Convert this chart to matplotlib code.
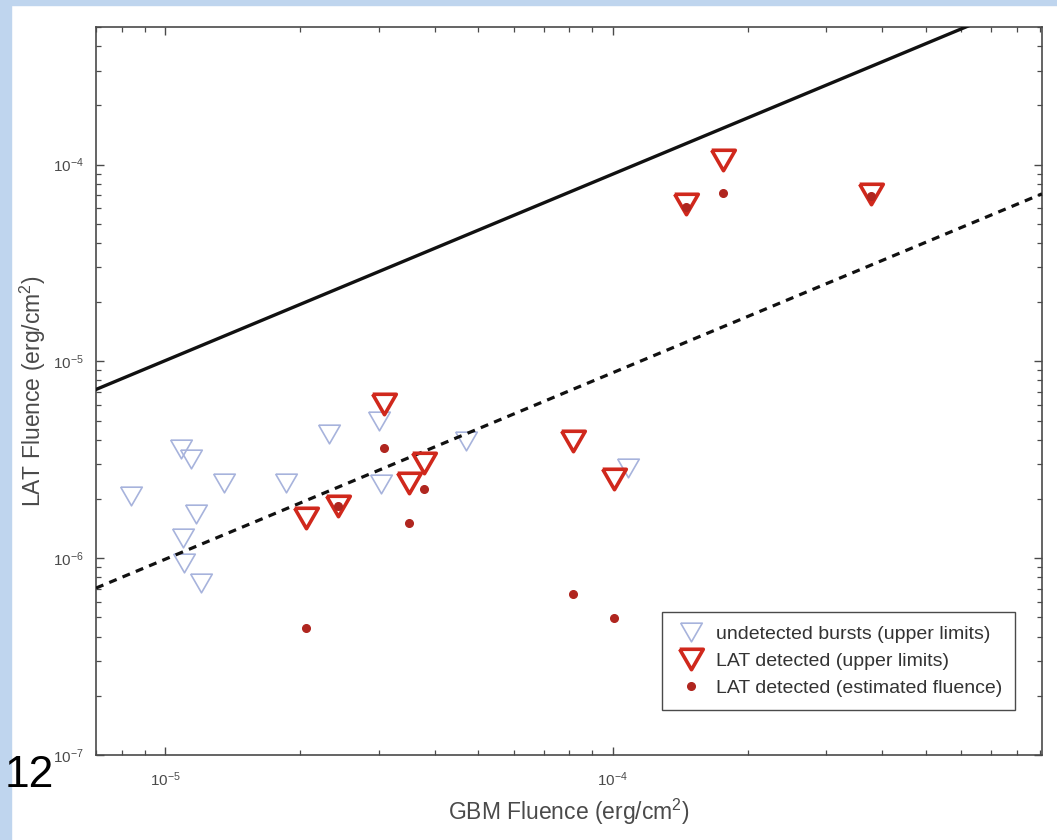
import matplotlib
matplotlib.use("Agg")
import matplotlib.pyplot as plt
import matplotlib.ticker as ticker
from matplotlib.patches import Rectangle

plt.rcParams['font.family'] = ['Liberation Sans', 'DejaVu Sans']
plt.rcParams['mathtext.fontset'] = 'custom'
plt.rcParams['mathtext.rm'] = 'Liberation Sans'
plt.rcParams['mathtext.it'] = 'Liberation Sans:italic'
plt.rcParams['mathtext.bf'] = 'Liberation Sans:bold'

# undetected bursts (upper limits)
undet_gbm = [8.4e-6, 1.086e-5, 1.143e-5, 1.354e-5, 1.862e-5, 1.173e-5, 1.097e-5,
             1.10e-5, 1.203e-5, 2.32e-5, 3.0e-5, 3.03e-5, 4.70e-5, 1.08e-4]
undet_lat = [2.07e-6, 3.57e-6, 3.18e-6, 2.41e-6, 2.41e-6, 1.67e-6, 1.26e-6,
             9.4e-7, 7.47e-7, 4.26e-6, 4.95e-6, 2.38e-6, 3.93e-6, 2.86e-6]

# LAT detected bursts
det_gbm = [3.08e-5, 2.06e-5, 2.43e-5, 3.51e-5, 3.79e-5, 8.15e-5, 1.005e-4,
           1.455e-4, 1.76e-4, 3.77e-4]
det_lat_ul = [6.05e-6, 1.60e-6, 1.84e-6, 2.41e-6, 3.03e-6, 3.93e-6, 2.52e-6,
              6.27e-5, 1.06e-4, 7.05e-5]
det_lat_est = [3.61e-6, 4.42e-7, 1.84e-6, 1.51e-6, 2.24e-6, 6.56e-7, 4.95e-7,
               6.1e-5, 7.13e-5, 6.9e-5]

# reference lines
line_gbm = [7e-6, 9.1e-4]
line_solid = [7.2e-6, 7.25e-4]
line_dashed = [7.05e-7, 7.1e-5]

BLUE = '#a7b3dc'
RED = '#d0281c'
DOT = '#b0261f'
GREY = '#4a4a4a'

tri = [(-1, 0.866), (1, 0.866), (0, -0.866), (-1, 0.866)]

fig = plt.figure(figsize=(10.57, 8.4), dpi=100)
fig.patch.set_facecolor('white')
# slide background strips
fig.patches.append(Rectangle((0, 0), 11 / 1057, 1, transform=fig.transFigure,
                             color='#bfd5ee', zorder=0))
fig.patches.append(Rectangle((0, 1 - 5 / 840), 1, 5 / 840, transform=fig.transFigure,
                             color='#bfd5ee', zorder=0))

ax = fig.add_axes([96 / 1057, 1 - 755 / 840, 946 / 1057, 728 / 840])
ax.set_xscale('log')
ax.set_yscale('log')

ax.plot(undet_gbm, undet_lat, linestyle='none', marker=tri, markersize=15.5,
        markerfacecolor='none', markeredgecolor=BLUE, markeredgewidth=1.2,
        label='undetected bursts (upper limits)', zorder=2)
ax.plot(line_gbm, line_solid, color='#111111', lw=2.4, zorder=3)
ax.plot(line_gbm, line_dashed, color='#111111', lw=2.3, dashes=(2.5, 2.0), zorder=3)
ax.plot(det_gbm, det_lat_ul, linestyle='none', marker=tri, markersize=17,
        markerfacecolor='none', markeredgecolor=RED, markeredgewidth=2.6,
        label='LAT detected (upper limits)', zorder=4)
ax.plot(det_gbm, det_lat_est, linestyle='none', marker='o', markersize=5.5,
        markerfacecolor=DOT, markeredgecolor=DOT,
        label='LAT detected (estimated fluence)', zorder=5)

ax.set_xlim(7e-6, 9.1e-4)
ax.set_ylim(1e-7, 5e-4)

ax.xaxis.set_minor_formatter(ticker.NullFormatter())
ax.yaxis.set_minor_formatter(ticker.NullFormatter())
ax.tick_params(which='both', direction='in', top=True, right=True, colors=GREY,
               labelsize=11)
ax.tick_params(which='major', length=6, width=1)
ax.tick_params(which='minor', length=3.5, width=0.9)
ax.tick_params(axis='y', pad=9)
ax.tick_params(axis='x', pad=11)
for s in ax.spines.values():
    s.set_color(GREY)
    s.set_linewidth(1.2)

ax.set_xlabel('GBM Fluence (erg/cm$^2$)', fontsize=16.5, color=GREY, labelpad=6)
ax.set_ylabel('LAT Fluence (erg/cm$^2$)', fontsize=16.5, color=GREY, labelpad=3)

leg = ax.legend(loc='lower right', bbox_to_anchor=(0.9715, 0.062), borderaxespad=0,
                fontsize=14, numpoints=1, fancybox=False, framealpha=1,
                edgecolor=GREY, handlelength=1.7, handletextpad=0.45,
                labelspacing=0.5, borderpad=0.65)
leg.get_frame().set_linewidth(1.0)
for t in leg.get_texts():
    t.set_color('#333333')

fig.text(5 / 1057, 1 - 787 / 840, '12', fontsize=32, color='black',
         va='baseline', ha='left', zorder=10)

fig.savefig('out.png', dpi=100)
